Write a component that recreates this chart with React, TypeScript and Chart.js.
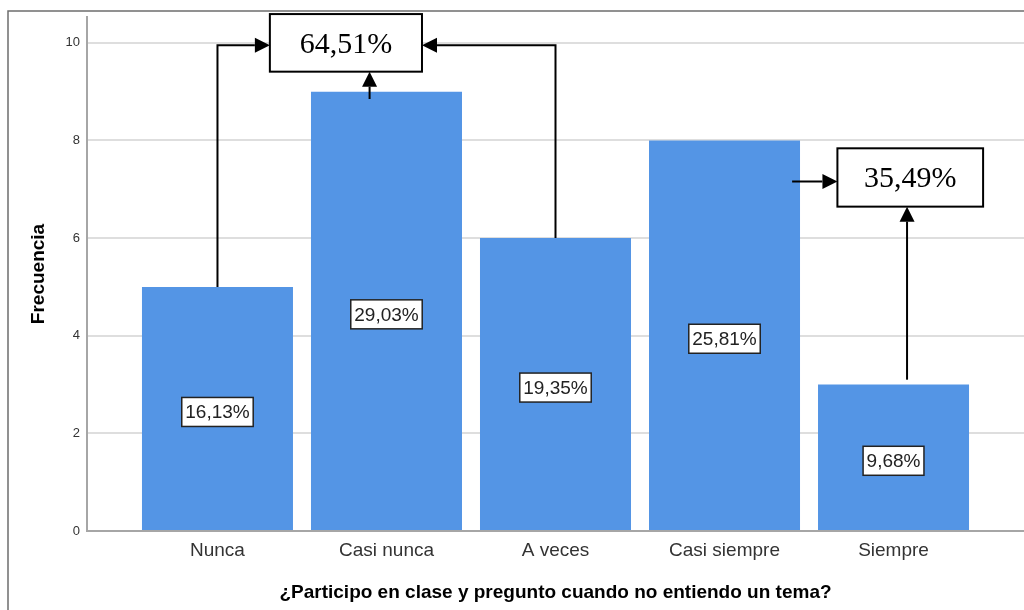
import React, { useEffect, useRef } from 'react';
import { Chart, registerables } from 'chart.js';

Chart.register(...registerables);

const categories = ['Nunca', 'Casi nunca', 'A veces', 'Casi siempre', 'Siempre'];
const frequencies = [5, 9, 6, 8, 3];
const percentLabels = ['16,13%', '29,03%', '19,35%', '25,81%', '9,68%'];
const yTicks = [0, 2, 4, 6, 8, 10];
const summaryLabels = ['64,51%', '35,49%'];

const SANS = '"Liberation Sans", Arial, sans-serif';
const SERIF = '"Liberation Serif", "Times New Roman", serif';

// Annotation overlay, expressed in data coordinates (x: category index, y: frequency)
const summaryBoxes = [
  { text: summaryLabels[0], x0: 0.31, x1: 1.21, y0: 9.41, y1: 10.59 },
  { text: summaryLabels[1], x0: 3.668, x1: 4.53, y0: 6.645, y1: 7.84 },
];
const arrowPaths: number[][][] = [
  [[0, frequencies[0]], [0, 9.95], [0.31, 9.95]],
  [[2, frequencies[2]], [2, 9.95], [1.21, 9.95]],
  [[0.9, 8.85], [0.9, 9.41]],
  [[3.4, 7.16], [3.668, 7.16]],
  [[4.08, 3.1], [4.08, 6.645]],
];

const overlayPlugin = {
  id: 'overlay',
  beforeDraw(chart: any) {
    const { ctx } = chart;
    ctx.save();
    ctx.fillStyle = '#ffffff';
    ctx.fillRect(0, 0, chart.width, chart.height);
    ctx.restore();
  },
  afterDatasetsDraw(chart: any) {
    const { ctx } = chart;
    const x = chart.scales.x;
    const y = chart.scales.y;

    // percentage labels inside bars
    ctx.save();
    ctx.font = `19px ${SANS}`;
    ctx.textAlign = 'center';
    ctx.textBaseline = 'middle';
    frequencies.forEach((v, i) => {
      const px = x.getPixelForValue(i);
      const py = y.getPixelForValue(v / 2) + 3;
      const w = ctx.measureText(percentLabels[i]).width + 7;
      const h = 29;
      ctx.fillStyle = '#ffffff';
      ctx.fillRect(px - w / 2, py - h / 2, w, h);
      ctx.strokeStyle = '#222222';
      ctx.lineWidth = 1.5;
      ctx.strokeRect(px - w / 2, py - h / 2, w, h);
      ctx.fillStyle = '#222222';
      ctx.fillText(percentLabels[i], px, py + 1);
    });
    ctx.restore();

    // arrows
    ctx.save();
    ctx.strokeStyle = '#000000';
    ctx.fillStyle = '#000000';
    ctx.lineWidth = 2;
    const headLen = 15;
    const headHalf = 7.5;
    arrowPaths.forEach((path) => {
      const pts = path.map(([vx, vy]) => [x.getPixelForValue(vx), y.getPixelForValue(vy)]);
      const n = pts.length;
      const [tx, ty] = pts[n - 1];
      const [sx, sy] = pts[n - 2];
      const dx = tx - sx;
      const dy = ty - sy;
      const len = Math.hypot(dx, dy);
      const ux = dx / len;
      const uy = dy / len;
      const bx = tx - ux * headLen;
      const by = ty - uy * headLen;
      ctx.beginPath();
      ctx.moveTo(pts[0][0], pts[0][1]);
      for (let k = 1; k < n - 1; k++) ctx.lineTo(pts[k][0], pts[k][1]);
      ctx.lineTo(bx, by);
      ctx.stroke();
      ctx.beginPath();
      ctx.moveTo(tx, ty);
      ctx.lineTo(bx - uy * headHalf, by + ux * headHalf);
      ctx.lineTo(bx + uy * headHalf, by - ux * headHalf);
      ctx.closePath();
      ctx.fill();
    });
    ctx.restore();

    // summary boxes
    ctx.save();
    ctx.font = `30px ${SERIF}`;
    ctx.textAlign = 'center';
    ctx.textBaseline = 'middle';
    summaryBoxes.forEach((b) => {
      const left = x.getPixelForValue(b.x0);
      const right = x.getPixelForValue(b.x1);
      const top = y.getPixelForValue(b.y1);
      const bottom = y.getPixelForValue(b.y0);
      ctx.fillStyle = '#ffffff';
      ctx.fillRect(left, top, right - left, bottom - top);
      ctx.strokeStyle = '#000000';
      ctx.lineWidth = 2;
      ctx.strokeRect(left, top, right - left, bottom - top);
      ctx.fillStyle = '#000000';
      ctx.fillText(b.text, (left + right) / 2, (top + bottom) / 2 + 2);
    });
    ctx.restore();

    // outer frame
    ctx.save();
    ctx.strokeStyle = '#6e6e6e';
    ctx.lineWidth = 1.5;
    ctx.beginPath();
    ctx.moveTo(8, chart.height);
    ctx.lineTo(8, 11);
    ctx.lineTo(chart.width, 11);
    ctx.stroke();
    ctx.restore();
  },
};

export default function App() {
  const canvasRef = useRef<HTMLCanvasElement | null>(null);

  useEffect(() => {
    if (!canvasRef.current) return;
    const chart = new Chart(canvasRef.current, {
      type: 'bar',
      data: {
        datasets: [
          {
            label: 'Frecuencia',
            data: frequencies.map((v, i) => ({ x: i, y: v })),
            backgroundColor: '#5495e5',
            borderWidth: 0,
            categoryPercentage: 1,
            barPercentage: 0.8935,
          },
        ],
      },
      options: {
        animation: false,
        responsive: false,
        devicePixelRatio: 1,
        layout: { padding: { top: 17, left: 0, right: 0, bottom: 0 } },
        plugins: {
          legend: { display: false },
          tooltip: { enabled: false },
        },
        scales: {
          x: {
            type: 'linear',
            offset: false,
            min: -0.772,
            max: 4.772,
            grid: { display: false, drawTicks: false, offset: false },
            border: { display: true, color: '#a6a6a6', width: 2 },
            afterBuildTicks: (scale: any) => {
              scale.ticks = categories.map((_, i) => ({ value: i }));
            },
            afterFit: (scale: any) => {
              scale.height = 79;
            },
            ticks: {
              autoSkip: false,
              maxRotation: 0,
              padding: 8,
              color: '#333333',
              font: { family: SANS, size: 19 },
              callback: (v: any) => categories[Math.round(Number(v))] ?? '',
            },
            title: {
              display: true,
              text: '¿Participo en clase y pregunto cuando no entiendo un tema?',
              color: '#000000',
              font: { family: SANS, size: 19, weight: 'bold' },
              padding: { top: 0, bottom: 6 },
            },
          },
          y: {
            type: 'linear',
            min: 0,
            max: 10.53,
            grid: { color: '#dedede', lineWidth: 2, drawTicks: false },
            border: { display: true, color: '#a6a6a6', width: 2 },
            afterBuildTicks: (scale: any) => {
              scale.ticks = yTicks.map((v) => ({ value: v }));
            },
            afterFit: (scale: any) => {
              scale.width = 87;
            },
            ticks: {
              padding: 7,
              color: '#333333',
              font: { family: SANS, size: 13 },
            },
            title: {
              display: true,
              text: 'Frecuencia',
              color: '#000000',
              font: { family: SANS, size: 19, weight: 'bold' },
              padding: { top: 27, bottom: 0 },
            },
          },
        },
      },
      plugins: [overlayPlugin],
    });
    return () => chart.destroy();
  }, []);

  return (
    <div style={{ position: 'fixed', left: 0, top: 0, width: 1024, height: 610, background: '#fff' }}>
      <canvas ref={canvasRef} width={1024} height={610} style={{ display: 'block', width: 1024, height: 610 }} />
    </div>
  );
}
